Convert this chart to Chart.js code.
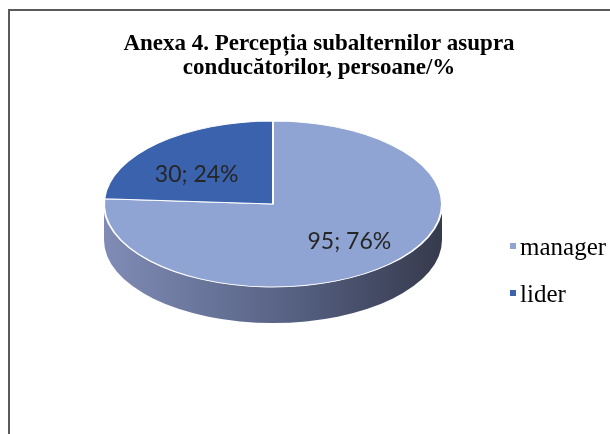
<!DOCTYPE html>
<html>
<head>
<meta charset="utf-8">
<script src="https://cdn.jsdelivr.net/npm/chart.js@4"></script>
<style>
  html, body { margin: 0; padding: 0; background: #fff; }
  #wrap { position: relative; width: 610px; height: 434px; overflow: hidden; }
  #frame { position: absolute; left: 8px; top: 9px; width: 700px; height: 500px;
           border-left: 2px solid #5a5a5a; border-top: 2px solid #5a5a5a; }
  canvas { position: absolute; left: 0; top: 0; }
</style>
</head>
<body>
<div id="wrap">
  <canvas id="chartPie" width="610" height="434"></canvas>
  <div id="frame"></div>
</div>
<script>
// data
const categories = ['manager', 'lider'];
const persons = [95, 30];
const percents = [76, 24];
const sliceColors = ['#8FA4D3', '#3B62AC'];
const titleLines = ['Anexa 4. Percepția subalternilor asupra', 'conducătorilor, persoane/%'];

// 3D look: where the tilted disc sits on the page
const PIE = { cx: 273, cy: 204, rx: 169, ry: 83, depth: 36 };
const LABEL_X = 0.66, LABEL_Y = 0.55, LABEL_SHIFT = 4;
const LEGEND = { x: 510, y: 246, step: 47, box: 6 };

const serif = "'Liberation Serif', 'Times New Roman', serif";

const pie3d = {
  id: 'pie3d',
  beforeDatasetsDraw(chart) {
    const ctx = chart.ctx;
    const arcs = chart.getDatasetMeta(0).data;
    if (!arcs.length) return;
    const { x, y, outerRadius } = arcs[0];

    // side wall, only the front half is visible
    const grad = ctx.createLinearGradient(PIE.cx - PIE.rx, 0, PIE.cx + PIE.rx, 0);
    grad.addColorStop(0, '#808CB5');
    grad.addColorStop(0.5, '#5A6588');
    grad.addColorStop(1, '#363A4D');
    arcs.forEach(arc => {
      const a0 = Math.max(arc.startAngle, 0);
      const a1 = Math.min(arc.endAngle, Math.PI);
      if (a1 <= a0) return;
      ctx.beginPath();
      ctx.ellipse(PIE.cx, PIE.cy + PIE.depth, PIE.rx, PIE.ry, 0, a0, a1, false);
      ctx.ellipse(PIE.cx, PIE.cy, PIE.rx, PIE.ry, 0, a1, a0, true);
      ctx.closePath();
      ctx.fillStyle = grad;
      ctx.fill();
    });

    // squash the flat pie into the top face
    ctx.save();
    ctx.translate(PIE.cx, PIE.cy);
    ctx.scale(PIE.rx / outerRadius, PIE.ry / outerRadius);
    ctx.translate(-x, -y);
    chart.$squashed = true;
  },
  afterDatasetsDraw(chart) {
    if (!chart.$squashed) return;
    const ctx = chart.ctx;
    ctx.restore();
    chart.$squashed = false;

    // data labels "value; percent"
    const arcs = chart.getDatasetMeta(0).data;
    ctx.save();
    ctx.font = "23px Lato, 'Open Sans', sans-serif";
    ctx.fillStyle = '#262626';
    ctx.textAlign = 'center';
    ctx.textBaseline = 'middle';
    arcs.forEach((arc, i) => {
      const mid = (arc.startAngle + arc.endAngle) / 2;
      const lx = PIE.cx + LABEL_X * PIE.rx * Math.cos(mid);
      const ly = PIE.cy + LABEL_SHIFT + LABEL_Y * PIE.ry * Math.sin(mid);
      ctx.fillText(persons[i] + '; ' + percents[i] + '%', lx, ly);
    });
    ctx.restore();
  },
  afterDraw(chart) {
    // legend on the right
    const ctx = chart.ctx;
    const colors = chart.data.datasets[0].backgroundColor;
    ctx.save();
    ctx.font = '25px ' + serif;
    ctx.textAlign = 'left';
    ctx.textBaseline = 'alphabetic';
    chart.data.labels.forEach((label, i) => {
      const cy = LEGEND.y + i * LEGEND.step;
      ctx.fillStyle = colors[i];
      ctx.fillRect(LEGEND.x, cy - LEGEND.box / 2, LEGEND.box, LEGEND.box);
      ctx.fillStyle = '#000';
      ctx.fillText(label, LEGEND.x + LEGEND.box + 4, cy + 9);
    });
    ctx.restore();
  }
};

new Chart(document.getElementById('chartPie'), {
  type: 'pie',
  data: {
    labels: categories,
    datasets: [{
      data: persons,
      backgroundColor: sliceColors,
      borderColor: '#ffffff',
      borderWidth: 2,
      hoverOffset: 0,
    }],
  },
  options: {
    responsive: false,
    animation: false,
    events: [],
    layout: { padding: { left: 28 } },
    plugins: {
      title: {
        display: true,
        text: titleLines,
        color: '#000',
        font: { family: serif, size: 23, weight: 'bold', lineHeight: 1.05 },
        padding: { top: 32, bottom: 10 },
      },
      legend: { display: false },
      tooltip: { enabled: false },
    },
  },
  plugins: [pie3d],
});
</script>
</body>
</html>
